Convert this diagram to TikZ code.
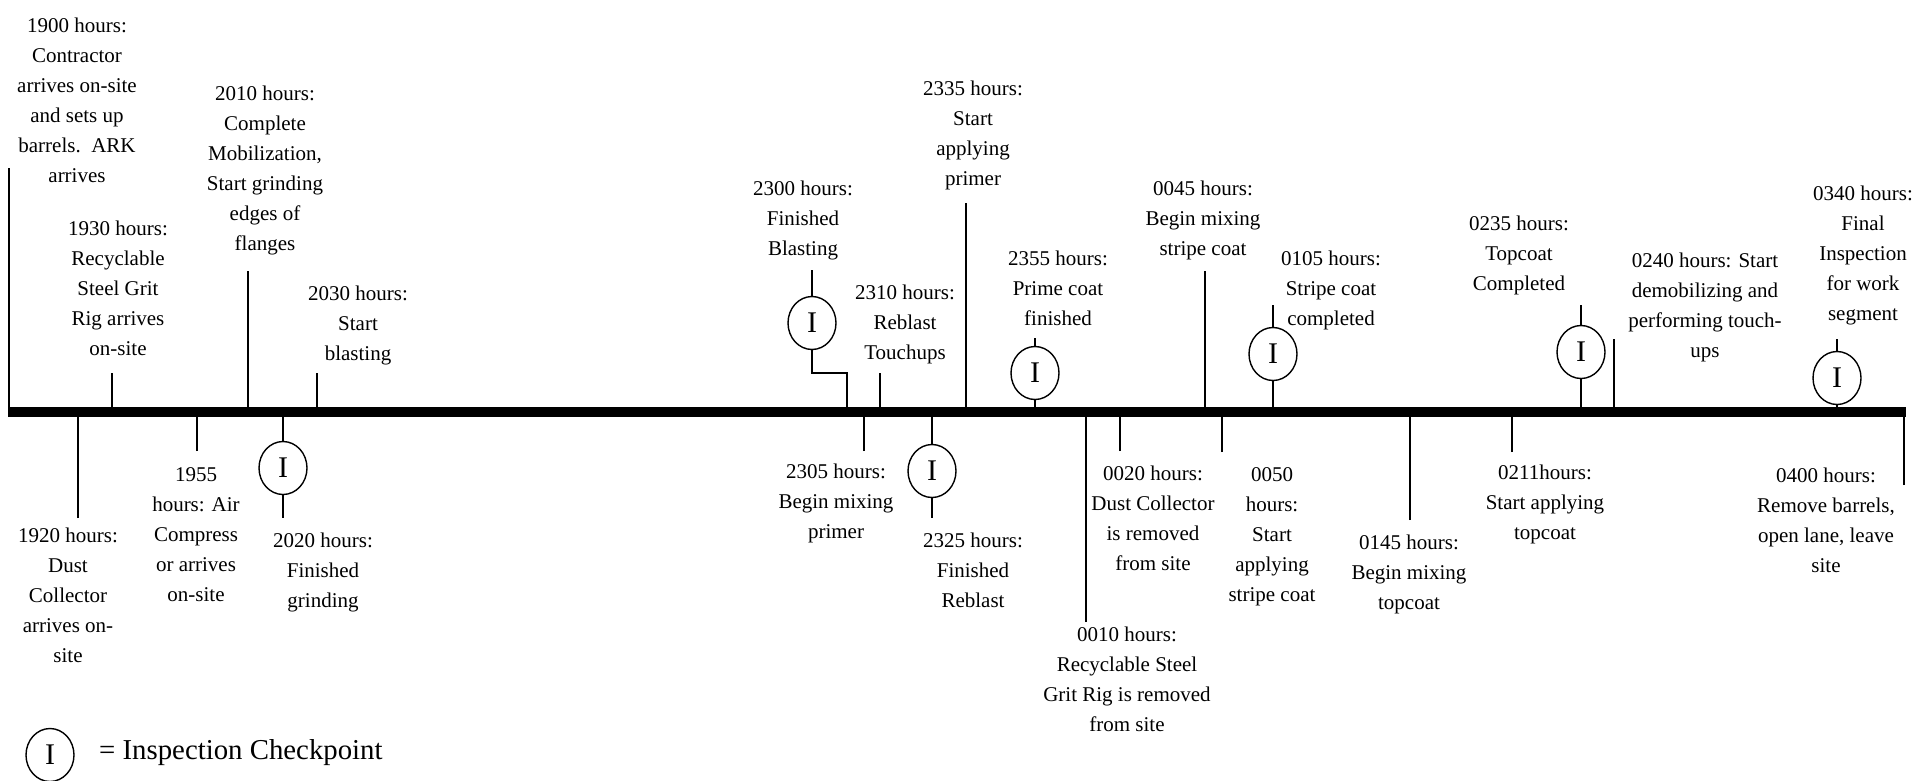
\documentclass[tikz,border=0pt]{standalone}
\usepackage{fontspec}
\setmainfont{Liberation Serif}
\usetikzlibrary{shapes.geometric}
\tikzset{
  lbl/.style={align=center, anchor=north, inner sep=0pt, font=\fontsize{21}{30}\selectfont},
  tick/.style={line width=1.8pt},
  mainbar/.style={line width=10pt},
  insp/.style={draw, ellipse, minimum width=48pt, minimum height=53pt, inner sep=0pt, line width=1.4pt, font=\fontsize{30}{30}\selectfont},
}
\begin{document}
\begin{tikzpicture}[x=1pt,y=-1pt]
\useasboundingbox[fill=white] (0,0) rectangle (1919,780);

% ---- labels above the bar ----
\node[lbl] (t1900) at (77,17.5) {1900 hours:\\Contractor\\arrives on-site\\and sets up\\barrels.\ \ ARK\\arrives};
\node[lbl] (t1930) at (118,220.5) {1930 hours:\\Recyclable\\Steel Grit\\Rig arrives\\on-site};
\node[lbl] (t2010) at (265,85.5) {2010 hours:\\Complete\\Mobilization,\\Start grinding\\edges of\\flanges};
\node[lbl] (t2030) at (358,285.5) {2030 hours:\\Start\\blasting};
\node[lbl] (t2300) at (803,180.5) {2300 hours:\\Finished\\Blasting};
\node[lbl] (t2310) at (905,284.5) {2310 hours:\\Reblast\\Touchups};
\node[lbl] (t2335) at (973,80.5) {2335 hours:\\Start\\applying\\primer};
\node[lbl] (t2355) at (1058,250.5) {2355 hours:\\Prime coat\\finished};
\node[lbl] (t0045) at (1203,180.5) {0045 hours:\\Begin mixing\\stripe coat};
\node[lbl] (t0105) at (1331,250.5) {0105 hours:\\Stripe coat\\completed};
\node[lbl] (t0235) at (1519,215.5) {0235 hours:\\Topcoat\\Completed};
\node[lbl] (t0240) at (1705,252.5) {0240 hours: Start\\demobilizing and\\performing touch-\\ups};
\node[lbl] (t0340) at (1863,185.5) {0340 hours:\\Final\\Inspection\\for work\\segment};

% ---- labels below the bar ----
\node[lbl] (t1920) at (68,527.5) {1920 hours:\\Dust\\Collector\\arrives on-\\site};
\node[lbl] (t1955) at (196,467.5) {1955\\hours: Air\\Compress\\or arrives\\on-site};
\node[lbl] (t2020) at (323,532.5) {2020 hours:\\Finished\\grinding};
\node[lbl] (t2305) at (836,463.5) {2305 hours:\\Begin mixing\\primer};
\node[lbl] (t2325) at (973,532.5) {2325 hours:\\Finished\\Reblast};
\node[lbl] (t0010) at (1127,626.5) {0010 hours:\\Recyclable Steel\\Grit Rig is removed\\from site};
\node[lbl] (t0020) at (1153,465.5) {0020 hours:\\Dust Collector\\is removed\\from site};
\node[lbl] (t0050) at (1272,467.5) {0050\\hours:\\Start\\applying\\stripe coat};
\node[lbl] (t0145) at (1409,534.5) {0145 hours:\\Begin mixing\\topcoat};
\node[lbl] (t0211) at (1545,464.5) {0211hours:\\Start applying\\topcoat};
\node[lbl] (t0400) at (1826,467.5) {0400 hours:\\Remove barrels,\\open lane, leave\\site};

% ---- inspection circles ----
\node[insp] (c2020) at (283,468) {I};
\node[insp] (c2300) at (812,323) {I};
\node[insp] (c2325) at (932,471) {I};
\node[insp] (c2355) at (1035,373) {I};
\node[insp] (c0105) at (1273,354) {I};
\node[insp] (c0235) at (1581,352) {I};
\node[insp] (c0340) at (1837,378) {I};

% ---- points on the bar and free ends ----
\foreach \n/\x in {1900/9,1930/112,2010/248,2030/317,2310/880,2335/966,0045/1205,0240/1614,
                   1920/78,1955/197,2305/864,0010/1086,0020/1120,0050/1222,0145/1410,0211/1512,0400/1904,
                   2020/283,2300/847,2325/932,2355/1035,0105/1273,0235/1581,0340/1837}
  \coordinate (b\n) at (\x,412);
\foreach \n/\x/\y in {1900/9/168,1930/112/373,2010/248/271,2030/317/373,2310/880/373,2335/966/203,0045/1205/271,0240/1614/339,
                      1920/78/518,1955/197/451,2305/864/451,0010/1086/622,0020/1120/451,0050/1222/452,0145/1410/520,0211/1512/452,0400/1904/485,
                      2020/283/518,2300/812/270,2325/932/518,2355/1035/338,0105/1273/305,0235/1581/305,0340/1837/339}
  \coordinate (e\n) at (\x,\y);

% ---- plain ticks ----
\foreach \n in {1900,1930,2010,2030,2310,2335,0045,0240,1920,1955,2305,0010,0020,0050,0145,0211,0400}
  \draw[tick] (e\n) -- (b\n);

% ---- ticks through circles ----
\foreach \n in {2020,2325,2355,0105,0235,0340}
  \draw[tick] (b\n) -- (c\n) -- (e\n);
\draw[tick] (e2300) -- (c2300);
\coordinate (k2300a) at (812,373);
\coordinate (k2300b) at (847,373);
\draw[tick] (c2300) -- (k2300a) -- (k2300b) -- (b2300);

% ---- main bar ----
\coordinate (barL) at (8,412);
\coordinate (barR) at (1906,412);
\draw[mainbar] (barL) -- (barR);

% ---- legend ----
\node[insp] (leg) at (50,755) {I};
\node[anchor=west, inner sep=0pt, font=\fontsize{28.8}{30}\selectfont] (legt) at (99,753) {= Inspection Checkpoint};
\end{tikzpicture}
\end{document}
